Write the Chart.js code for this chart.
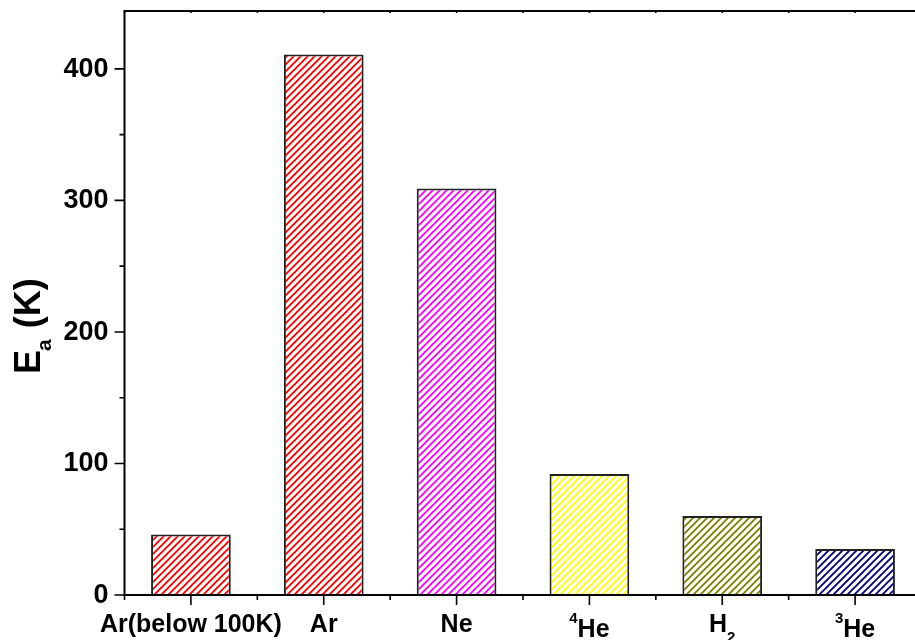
<!DOCTYPE html>
<html>
<head>
<meta charset="utf-8">
<script src="https://cdn.jsdelivr.net/npm/chart.js@4/dist/chart.umd.min.js"></script>
<style>
  html, body { margin: 0; padding: 0; background: #fff; overflow: hidden; }
  #wrap { position: absolute; left: 0; top: 0; width: 935px; height: 640px; }
</style>
</head>
<body>
<div id="wrap"><canvas id="c" width="935" height="640"></canvas></div>
<script>
// Activation energies per adsorbate
const categories = ['Ar(below 100K)', 'Ar', 'Ne', '4He', 'H2', '3He'];
const labelBase = ['Ar(below 100K)', 'Ar', 'Ne', 'He', 'H', 'He'];
const labelSup = ['', '', '', '4', '', '3'];
const labelSub = ['', '', '', '', '2', ''];
const energies = [46, 411, 309, 92, 60, 35];
const yTicks = [0, 100, 200, 300, 400];
const yMinorTicks = [50, 150, 250, 350];

const hatchColors = ['#ff0000', '#ff0000', '#ff00ff', '#ffff00', '#808000', '#000080'];
const FONT = '"Liberation Sans", Arial, sans-serif';

// diagonal "/" hatch fill
function hatch(color) {
  const p = 7;
  const cv = document.createElement('canvas');
  cv.width = p; cv.height = p;
  const g = cv.getContext('2d');
  g.fillStyle = '#fff';
  g.fillRect(0, 0, p, p);
  g.strokeStyle = color;
  g.lineWidth = 1.9;
  g.beginPath();
  g.moveTo(-1, p + 1); g.lineTo(p + 1, -1);
  g.moveTo(-2, 2); g.lineTo(2, -2);
  g.moveTo(p - 2, p + 2); g.lineTo(p + 2, p - 2);
  g.stroke();
  return g.createPattern(cv, 'repeat');
}

const ctx = document.getElementById('c').getContext('2d');
const patterns = hatchColors.map(hatch);

const frame = {
  id: 'frame',
  afterDraw(chart) {
    const g = chart.ctx;
    const a = chart.chartArea;
    const xs = chart.scales.x, ys = chart.scales.y;
    const n = categories.length;
    const step = (a.right - a.left) / n;
    g.save();
    g.strokeStyle = '#000';
    g.lineWidth = 2;
    // box
    g.beginPath();
    g.moveTo(a.left, a.top); g.lineTo(a.right, a.top);
    g.lineTo(a.right, a.bottom); g.lineTo(a.left, a.bottom); g.closePath();
    g.stroke();
    g.lineWidth = 1.6;
    g.beginPath();
    // left axis ticks
    yTicks.forEach(v => { const y = ys.getPixelForValue(v); g.moveTo(a.left - 10, y); g.lineTo(a.left, y); });
    yMinorTicks.forEach(v => { const y = ys.getPixelForValue(v); g.moveTo(a.left - 5, y); g.lineTo(a.left, y); });
    // bottom / top ticks
    for (let i = 0; i < n; i++) {
      const x = xs.getPixelForValue(i);
      g.moveTo(x, a.bottom); g.lineTo(x, a.bottom + 10);
      g.moveTo(x, a.top); g.lineTo(x, a.top + 2);
    }
    for (let i = 0; i <= n; i++) {
      const x = a.left + i * step;
      g.moveTo(x, a.bottom); g.lineTo(x, a.bottom + 5);
      g.moveTo(x, a.top); g.lineTo(x, a.top + 2);
    }
    g.stroke();

    g.fillStyle = '#000';
    // y tick labels
    g.font = 'bold 27px ' + FONT;
    g.textAlign = 'right';
    g.textBaseline = 'alphabetic';
    yTicks.forEach(v => { g.fillText(String(v), a.left - 16, ys.getPixelForValue(v) + 8); });

    // category labels with super/subscripts
    g.textAlign = 'left';
    for (let i = 0; i < n; i++) {
      const cx = xs.getPixelForValue(i);
      const mainFont = 'bold 25px ' + FONT;
      const smallFont = 'bold 15px ' + FONT;
      g.font = mainFont;
      const wb = g.measureText(labelBase[i]).width;
      g.font = smallFont;
      const ws = labelSup[i] ? g.measureText(labelSup[i]).width : 0;
      const wu = labelSub[i] ? g.measureText(labelSub[i]).width : 0;
      const total = ws + wb + wu;
      let x = cx - total / 2;
      const base = labelSup[i] ? 637 : 632;
      if (labelSup[i]) { g.font = smallFont; g.fillText(labelSup[i], x, base - 14); x += ws; }
      g.font = mainFont; g.fillText(labelBase[i], x, base); x += wb;
      if (labelSub[i]) { g.font = smallFont; g.fillText(labelSub[i], x, base + 10); }
    }

    // y axis title: E_a (K)
    g.translate(39.5, 374);
    g.rotate(-Math.PI / 2);
    g.font = 'bold 36px ' + FONT;
    g.fillText('E', 0, 0);
    let tx = g.measureText('E').width;
    g.font = 'bold 21px ' + FONT;
    g.fillText('a', tx - 1, 11);
    tx += g.measureText('a').width;
    g.font = 'bold 36px ' + FONT;
    g.fillText(' (K)', tx, 0);
    g.restore();
  }
};

new Chart(ctx, {
  type: 'bar',
  data: {
    labels: categories,
    datasets: [{
      data: energies,
      backgroundColor: patterns,
      borderColor: '#222',
      borderWidth: 2,
      barPercentage: 0.6,
      categoryPercentage: 1
    }]
  },
  options: {
    responsive: false,
    animation: false,
    devicePixelRatio: 1,
    layout: { padding: { left: 124.5, right: 13.5, top: 11, bottom: 45 } },
    scales: {
      x: { display: false },
      y: { display: false, min: 0, max: 444 }
    },
    plugins: { legend: { display: false }, tooltip: { enabled: false } }
  },
  plugins: [frame]
});
</script>
</body>
</html>
